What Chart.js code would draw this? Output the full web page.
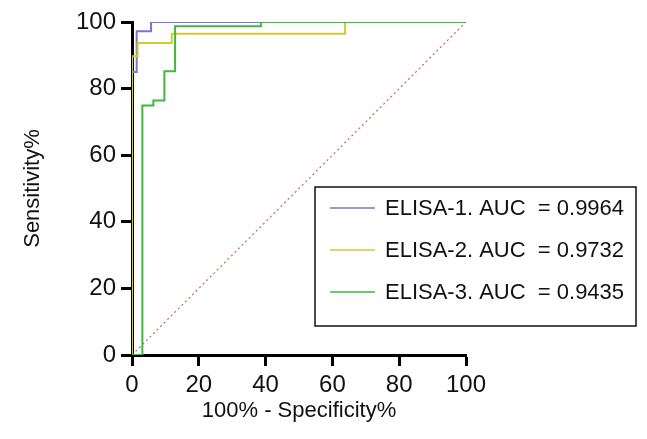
<!DOCTYPE html>
<html>
<head>
<meta charset="utf-8">
<script src="https://cdn.jsdelivr.net/npm/chart.js@4.4.0/dist/chart.umd.min.js"></script>
<style>
    html, body { margin: 0; padding: 0; background: #fff; }
    #wrap { width: 647px; height: 439px; }
</style>
</head>
<body>
<div id="wrap"><canvas id="roc"></canvas></div>
<script>
// ROC points: 100% - specificity (x) and sensitivity (y), in percent
const elisa1X = [0, 0, 1.4, 5.7, 100];
const elisa1Y = [0, 85.0, 97.2, 100, 100];
const elisa2X = [0, 0, 1.7, 11.9, 63.8, 100];
const elisa2Y = [0, 89.7, 93.7, 96.5, 100, 100];
const elisa3X = [0, 3.1, 6.4, 9.7, 12.9, 38.6, 100];
const elisa3Y = [0, 74.9, 76.4, 85.2, 98.7, 100, 100];
const refX = [0, 100];
const refY = [0, 100];

const seriesNames = ['ELISA-1. AUC  = 0.9964', 'ELISA-2. AUC  = 0.9732', 'ELISA-3. AUC  = 0.9435'];
const axisTicks = [0, 20, 40, 60, 80, 100];

const FONT = '"Liberation Sans", Arial, sans-serif';

function toPoints(xs, ys) {
    return xs.map((x, i) => ({ x: x, y: ys[i] }));
}

// legend drawn as a framed box that hangs over the right edge of the plot
const boxLegend = {
    id: 'boxLegend',
    afterDraw(chart) {
        const ctx = chart.ctx;
        const left = 315, top = 187, right = 636, bottom = 326;
        ctx.save();
        ctx.fillStyle = '#fff';
        ctx.fillRect(left, top, right - left, bottom - top);
        ctx.strokeStyle = '#111';
        ctx.lineWidth = 1.5;
        ctx.strokeRect(left, top, right - left, bottom - top);

        ctx.font = '22px ' + FONT;
        ctx.textBaseline = 'middle';
        const rows = [208, 250, 292];
        chart.data.datasets.slice(0, 3).forEach((ds, i) => {
            const y = rows[i];
            ctx.strokeStyle = ds.borderColor;
            ctx.lineWidth = 1.5;
            ctx.beginPath();
            ctx.moveTo(330, y);
            ctx.lineTo(375, y);
            ctx.stroke();
            ctx.fillStyle = '#111';
            ctx.fillText(ds.label, 385, y + 1);
        });
        ctx.restore();
    }
};

function axis(titleText, horizontal) {
    return {
        type: 'linear',
        min: 0,
        max: 100,
        afterBuildTicks: (scale) => { scale.ticks = axisTicks.map(v => ({ value: v })); },
        afterFit: (scale) => {
            if (horizontal) scale.height = 84;
            else scale.width = 132;
        },
        border: { color: '#000', width: 3 },
        grid: { drawOnChartArea: false, drawTicks: true, tickLength: 11, tickWidth: 3, tickColor: '#000' },
        ticks: { color: '#111', font: { family: FONT, size: 24 }, padding: 5, maxRotation: 0 },
        title: {
            display: true,
            text: titleText,
            color: '#111',
            font: { family: FONT, size: 22 },
            padding: horizontal ? { top: 0, bottom: 15 } : { top: 20, bottom: 0 }
        }
    };
}

new Chart(document.getElementById('roc'), {
    type: 'line',
    data: {
        datasets: [
            { label: seriesNames[0], data: toPoints(elisa1X, elisa1Y), borderColor: '#7676d6', borderWidth: 2, stepped: 'before', order: 2 },
            { label: seriesNames[1], data: toPoints(elisa2X, elisa2Y), borderColor: '#d2c934', borderWidth: 2, stepped: 'before', order: 1 },
            { label: seriesNames[2], data: toPoints(elisa3X, elisa3Y), borderColor: '#3cba3c', borderWidth: 2, stepped: 'before', order: 0 },
            { label: 'reference', data: toPoints(refX, refY), borderColor: '#e05a5a', borderWidth: 1.2, borderDash: [2, 3], order: 3 }
        ]
    },
    options: {
        responsive: true,
        maintainAspectRatio: false,
        animation: false,
        parsing: false,
        elements: { point: { radius: 0 }, line: { tension: 0, fill: false } },
        layout: { padding: { top: 22, right: 181, bottom: 0, left: 0 } },
        plugins: { legend: { display: false }, tooltip: { enabled: false } },
        scales: {
            x: axis('100% - Specificity%', true),
            y: axis('Sensitivity%', false)
        }
    },
    plugins: [boxLegend]
});
</script>
</body>
</html>
